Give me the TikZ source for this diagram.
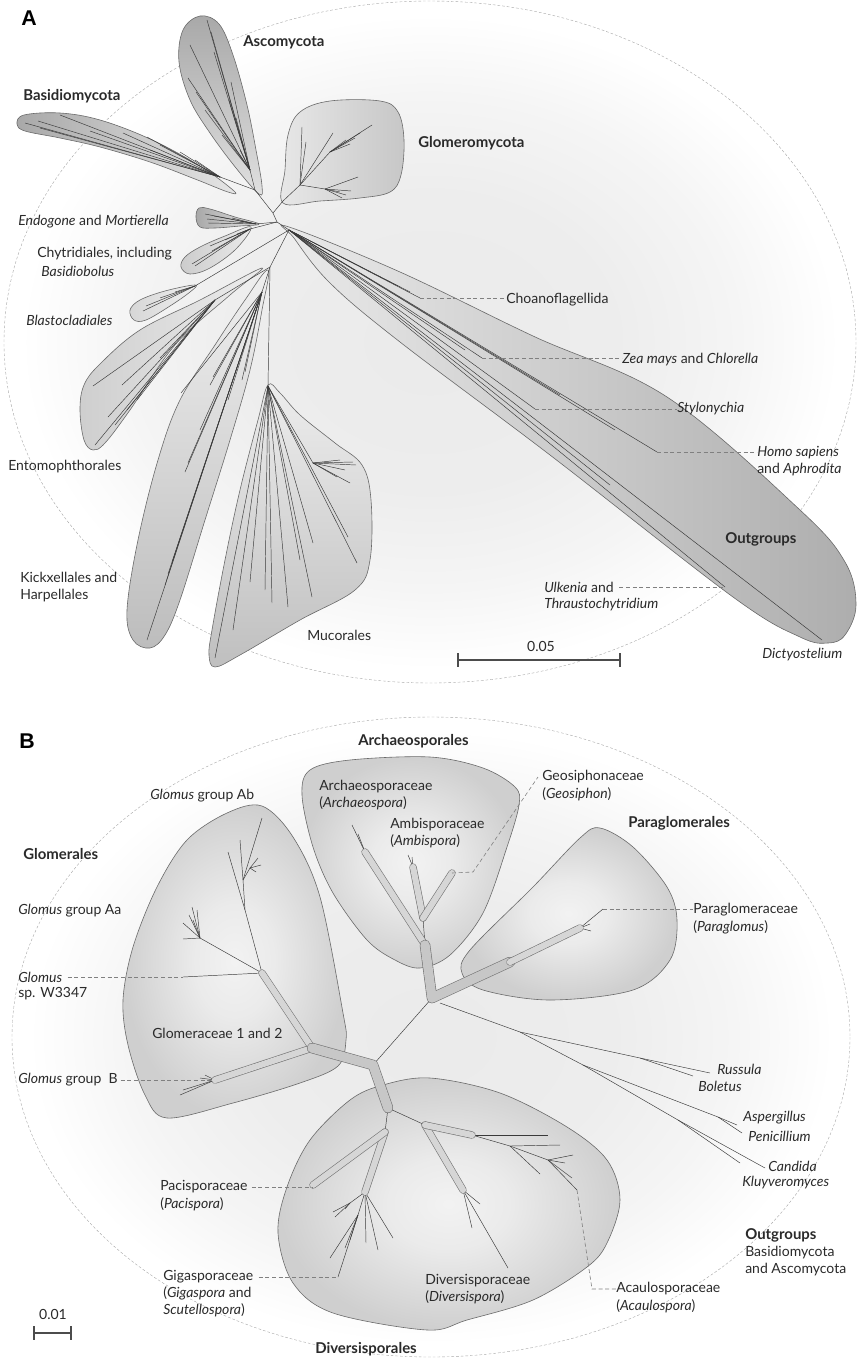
\documentclass[tikz,border=0pt]{standalone}
\usepackage{fontspec}
\setmainfont{Lato}
\newfontfamily\panelfont{Liberation Sans}
\usepackage{tikz}
\usetikzlibrary{positioning}
\definecolor{Ink}{HTML}{2A2A2A}
\definecolor{Edge}{HTML}{6A6A6A}
\definecolor{Twig}{HTML}{3A3A3A}
\pgfdeclareradialshading{halo}{\pgfpoint{0bp}{0bp}}{color(0bp)=(black!8); color(11bp)=(black!7); color(18bp)=(black!4); color(24bp)=(white); color(50bp)=(white)}
\pgfdeclareradialshading{pouch}{\pgfpoint{0bp}{0bp}}{color(0bp)=(black!5); color(9bp)=(black!8); color(25bp)=(black!19); color(50bp)=(black!19)}
\tikzset{
  twig/.style={draw=Twig,line width=0.35pt},
  clade/.style={draw=Edge,line width=0.45pt},
  halo/.style={draw=black!35,line width=0.3pt,dash pattern=on 2pt off 1.5pt},
  leader/.style={draw=black!50,line width=0.45pt,dash pattern=on 3pt off 2pt},
  pipe/.style={draw=black!55,line width=0.45pt,double=black!16,double distance=4.6pt,line cap=round,line join=round},
  fatpipe/.style={pipe,double=black!22,double distance=7pt},
  lbl/.style={inner sep=0pt,anchor=west,align=left,text=Ink,font=\fontsize{10.5}{12.8}\selectfont},
  grp/.style={lbl,font=\fontsize{11.2}{12.8}\selectfont\bfseries},
  panel/.style={inner sep=0pt,anchor=west,font=\panelfont\bfseries\fontsize{16}{16}\selectfont}
}
\begin{document}
\begin{tikzpicture}[x=0.75pt,y=-0.75pt]
  \useasboundingbox (0,0) rectangle (857,1359);
  % halos
  \shade[shading=halo] (430,342) ellipse [x radius=426,y radius=341];
  \draw[halo] (430,342) ellipse [x radius=426,y radius=341];
  \shade[shading=halo] (431,1037) ellipse [x radius=419,y radius=320];
  \draw[halo] (431,1037) ellipse [x radius=419,y radius=320];

  % ---------------- panel A: clades
  \draw[clade,top color=black!34,bottom color=black!12] plot[smooth cycle,tension=.6] coordinates {(259,194) (236,168) (210,133) (190,100) (179,62) (183,30) (200,16) (219,24) (233,55) (247,105) (256,150) (262,186)};
  \draw[clade,left color=black!34,right color=black!10] plot[smooth cycle,tension=.6] coordinates {(234,191) (200,166) (150,139) (100,120) (60,113) (24,115) (17,124) (25,131) (60,138) (100,147) (150,162) (195,179) (228,192)};
  \draw[clade,left color=black!9,right color=black!22] plot[smooth cycle,tension=.6] coordinates {(283,203) (285,170) (288,135) (300,112) (330,101) (380,101) (398,112) (404,140) (401,175) (390,192) (360,198) (320,201)};
  \draw[clade,left color=black!34,right color=black!11] plot[smooth cycle,tension=.6] coordinates {(259,224) (235,217) (210,209) (199,208) (196,217) (200,227) (215,228) (240,226)};
  \draw[clade,left color=black!20,right color=black!8] plot[smooth cycle,tension=.6] coordinates {(251,227) (225,236) (200,247) (185,257) (181,267) (190,274) (210,268) (236,249)};
  \draw[clade,left color=black!16,right color=black!6] plot[smooth cycle,tension=.6] coordinates {(195,285) (165,291) (140,300) (130,310) (134,320) (146,320) (170,306) (190,292)};
  \draw[clade,left color=black!19,right color=black!7] plot[smooth cycle,tension=.6] coordinates {(262,268) (200,300) (140,330) (100,364) (84,385) (80,410) (84,440) (93,450) (105,443) (130,410) (175,345) (230,295)};
  \draw[clade,top color=black!6,bottom color=black!26] plot[smooth cycle,tension=.6] coordinates {(268,270) (245,300) (215,345) (180,400) (158,460) (138,540) (127,610) (133,640) (150,648) (165,635) (180,600) (205,520) (230,440) (250,370) (262,310)};
  \draw[clade,top color=black!7,bottom color=black!25] plot[smooth cycle,tension=.6] coordinates {(268,385) (258,420) (240,490) (225,560) (212,630) (209,655) (215,667) (240,655) (300,620) (355,590) (370,560) (371,500) (362,465) (335,443) (300,415) (280,393)};
  \draw[clade,left color=black!8,right color=black!32] plot[smooth cycle,tension=.6] coordinates {(289,227) (400,272) (533,336) (667,397) (800,510) (845,562) (856,605) (845,635) (828,643) (800,637) (733,597) (550,455) (400,342) (330,283) (294,238)};

  % panel A: backbone
  \coordinate (rootA) at (289,230);
  \coordinate (fA1) at (277,222);
  \coordinate (fA2) at (273,213);
  \coordinate (dik) at (255,190);
  \coordinate (glo) at (283,201);
  \coordinate (zyg) at (270,267);
  \draw[twig] (dik) -- (fA2) -- (glo);
  \draw[twig] (fA2) -- (fA1) -- (rootA);
  \draw[twig] (rootA) -- (zyg);
  % Ascomycota
  \coordinate (asc) at (250,170);
  \draw[twig] (dik) -- (asc);
  \foreach \tp in {(207,20),(211,32),(214,52),(190,45),(188,78),(196,92),(205,110),(231,82),(229,100),(236,118),(222,135),(240,150)}
    \draw[twig] (asc) -- \tp;
  % Basidiomycota
  \coordinate (bas) at (220,177);
  \draw[twig] (dik) -- (bas);
  \foreach \tp in {(25,123),(38,121),(60,115),(40,128),(90,131),(123,133),(147,137),(160,145),(150,150),(180,152),(195,160)}
    \draw[twig] (bas) -- \tp;
  % Glomeromycota
  \coordinate (gl1) at (300,185);
  \coordinate (gl2) at (330,152);
  \coordinate (gl3) at (325,189);
  \draw[twig] (glo) -- (gl1) -- (gl2);
  \draw[twig] (gl1) -- (gl3);
  \foreach \tp in {(372,125),(360,133),(355,138),(350,144),(346,140)}
    \draw[twig] (gl2) -- \tp;
  \foreach \tp in {(302,127),(306,142),(333,133)}
    \draw[twig] (gl1) -- \tp;
  \foreach \tp in {(358,177),(342,198),(346,195),(351,191),(340,192)}
    \draw[twig] (gl3) -- \tp;
  % Endogone, Chytridiales, Blastocladiales
  \coordinate (endo) at (256,224);
  \draw[twig] (fA1) -- (endo);
  \foreach \tp in {(205,214),(207,219),(208,223),(214,216),(232,218),(240,221)}
    \draw[twig] (endo) -- \tp;
  \coordinate (chy) at (250,229);
  \draw[twig] (fA1) -- (chy);
  \foreach \tp in {(192,264),(195,266),(210,246),(212,251),(225,240),(237,234)}
    \draw[twig] (chy) -- \tp;
  \coordinate (bla) at (195,286);
  \draw[twig] (rootA) -- (bla);
  \foreach \tp in {(143,311),(146,306),(160,298),(175,292)}
    \draw[twig] (bla) -- \tp;
  % Entomophthorales, Kickxellales, Mucorales
  \coordinate (ent) at (215,300);
  \draw[twig] (zyg) -- (ent);
  \foreach \tp in {(93,386),(108,417),(127,410),(95,445),(137,400),(122,385),(160,358),(115,425)}
    \draw[twig] (ent) -- \tp;
  \coordinate (kic) at (262,292);
  \draw[twig] (zyg) -- (kic);
  \foreach \tp in {(147,640),(165,585),(168,574),(172,562),(185,472),(188,463),(210,385),(213,377),(181,393),(242,380),(245,372),(228,400),(200,430)}
    \draw[twig] (kic) -- \tp;
  \coordinate (muc) at (268,386);
  \coordinate (mcl) at (313,463);
  \draw[twig] (zyg) -- (muc) -- (mcl);
  \foreach \tp in {(215,658),(233,630),(250,582),(265,590),(272,603),(288,607),(312,597),(313,543),(348,537),(357,563),(300,560)}
    \draw[twig] (muc) -- \tp;
  \foreach \tp in {(353,462),(350,483),(337,477),(345,470),(356,465),(340,460)}
    \draw[twig] (mcl) -- \tp;
  % outgroups
  \coordinate (choTip) at (420,298);
  \coordinate (zeaTip) at (482,358);
  \coordinate (styTip) at (535,409);
  \coordinate (homTip) at (657,452);
  \coordinate (ulkTip) at (725,587);
  \coordinate (dicTip) at (822,640);
  \foreach \tp in {(choTip),(410,292),(398,286),(465,350),(zeaTip),(styTip),(560,395),(615,430),(610,485),(homTip),(ulkTip),(dicTip)}
    \draw[twig] (rootA) -- \tp;

  % panel A: labels
  \node[panel] (pA) at (21,18) {A};
  \node[grp] (lAsc) at (243,42) {Ascomycota};
  \node[grp] (lBas) at (23,96) {Basidiomycota};
  \node[grp] (lGlm) at (418,143) {Glomeromycota};
  \node[lbl] (lEnd) at (18,222) {\textit{Endogone} and \textit{Mortierella}};
  \node[lbl] (lChy) at (37,254) {Chytridiales, including};
  \node[lbl] (lBsb) at (41,271) {\textit{Basidiobolus}};
  \node[lbl] (lBla) at (26,320) {\textit{Blastocladiales}};
  \node[lbl] (lEnt) at (8,467) {Entomophthorales};
  \node[lbl] (lKic) at (20,587) {Kickxellales and\\Harpellales};
  \node[lbl] (lMuc) at (307,635) {Mucorales};
  \node[lbl] (lCho) at (506,300) {Choanoflagellida};
  \node[lbl] (lZea) at (622,360) {\textit{Zea mays} and \textit{Chlorella}};
  \node[lbl] (lSty) at (677,409) {\textit{Stylonychia}};
  \node[lbl] (lHom) at (757,461) {\textit{Homo sapiens}\\and \textit{Aphrodita}};
  \node[grp] (lOut) at (725,539) {Outgroups};
  \node[lbl] (lUlk) at (544,587) {\textit{Ulkenia} and};
  \node[lbl] (lThr) at (544,605) {\textit{Thraustochytridium}};
  \node[lbl] (lDic) at (762,655) {\textit{Dictyostelium}};
  \draw[leader] (choTip) -- (choTip -| lCho.west);
  \draw[leader] (zeaTip) -- (zeaTip -| lZea.west);
  \draw[leader] (styTip) -- (styTip -| lSty.west);
  \draw[leader] (homTip) -- (homTip -| lHom.west);
  \draw[leader] ([xshift=4pt]lUlk.east) -- (ulkTip);
  % scale bar A
  \node[lbl,anchor=center] (sA) at (541,646) {0.05};
  \draw[black!70,line width=1.3pt] (458,660) -- (620,660);
  \draw[black!70,line width=1.3pt] (458,653) -- (458,667) (620,653) -- (620,667);

  % ---------------- panel B: clades
  \draw[clade,shade,shading=pouch] plot[smooth cycle,tension=.55] coordinates {(262,806) (293,837) (320,897) (343,1013) (346,1040) (338,1066) (300,1083) (233,1103) (167,1118) (145,1095) (128,1045) (123,1000) (133,947) (157,887) (187,840) (227,813)};
  \draw[clade,shade,shading=pouch] plot[smooth cycle,tension=.55] coordinates {(302,795) (310,770) (350,760) (430,757) (483,768) (515,787) (519,805) (507,847) (483,913) (450,955) (420,968) (395,960) (367,940) (333,893) (313,847)};
  \draw[clade,shade,shading=pouch] plot[smooth cycle,tension=.55] coordinates {(600,828) (633,847) (667,887) (677,920) (670,960) (633,990) (550,1000) (483,990) (462,973) (470,950) (533,887) (580,838)};
  \draw[clade,shade,shading=pouch] plot[smooth cycle,tension=.55] coordinates {(383,1085) (430,1078) (500,1093) (567,1127) (607,1160) (620,1200) (607,1243) (587,1267) (533,1300) (467,1320) (427,1330) (333,1313) (293,1283) (278,1233) (287,1187) (310,1140) (350,1100)};

  % panel B: backbone
  \coordinate (gC) at (312,1048);
  \coordinate (gA) at (262,973);
  \coordinate (gB) at (215,1080);
  \coordinate (bR) at (373,1065);
  \coordinate (dR) at (388,1108);
  \coordinate (apJ) at (432,998);
  \coordinate (arS) at (425,945);
  \coordinate (arV) at (423,918);
  \coordinate (paA) at (510,962);
  \coordinate (paB) at (580,928);
  \coordinate (dv1) at (385,1132);
  \coordinate (dv2) at (425,1125);
  \draw[twig] (bR) -- (apJ);
  % outgroups B
  \coordinate (ogR) at (440,1003);
  \coordinate (ogA) at (520,1032);
  \coordinate (ogB) at (640,1058);
  \coordinate (ogC) at (583,1065);
  \coordinate (ogD) at (678,1120);
  \coordinate (ogE) at (718,1117);
  \draw[twig] (ogR) -- (ogA) -- (ogB) -- (710,1073);
  \draw[twig] (ogB) -- (693,1076);
  \draw[twig] (ogA) -- (ogC) -- (ogE) -- (737,1125);
  \draw[twig] (ogE) -- (742,1133);
  \draw[twig] (ogC) -- (ogD) -- (765,1168);
  \draw[twig] (ogD) -- (740,1163);
  % Glomerales twigs
  \coordinate (wTip) at (183,977);
  \coordinate (aa) at (200,938);
  \coordinate (ab1) at (245,910);
  \coordinate (ab2) at (243,880);
  \coordinate (ab3) at (250,868);
  \draw[twig] (gA) -- (wTip);
  \draw[twig] (gA) -- (aa);
  \foreach \tp in {(183,939),(183,923),(192,907),(197,910),(193,920),(189,915)}
    \draw[twig] (aa) -- \tp;
  \draw[twig] (gA) -- (ab1) -- (ab2) -- (240,840);
  \draw[twig] (ab1) -- (228,852);
  \draw[twig] (ab2) -- (262,818);
  \draw[twig] (ab2) -- (ab3);
  \foreach \tp in {(261,865),(258,858),(256,872)}
    \draw[twig] (ab3) -- \tp;
  \foreach \tp in {(180,1095),(183,1090),(200,1078),(205,1075)}
    \draw[twig] (gB) -- \tp;
  % Archaeosporales and Paraglomerales twigs
  \draw[twig] (arS) -- (arV);
  \draw[twig] (365,852) -- (352,825);
  \draw[twig] (365,852) -- (358,834);
  \draw[twig] (413,867) -- (408,855);
  \draw[twig] (413,867) -- (412,857);
  \draw[twig] (paB) -- (590,924);
  \draw[twig] (paB) -- (591,931);
  \coordinate (paK) at (603,909);
  \draw[twig] (paB) -- (paK);
  % Diversisporales twigs
  \draw[twig] (dR) -- (dv1);
  \draw[twig] (dR) -- (dv2);
  \coordinate (gg) at (365,1192);
  \coordinate (gg1) at (358,1215);
  \coordinate (gg2) at (350,1203);
  \coordinate (gigTip) at (338,1277);
  \draw[twig] (gg) -- (gg1) -- (gigTip);
  \draw[twig] (gg) -- (gg2);
  \foreach \tp in {(330,1258),(345,1248),(350,1240)}
    \draw[twig] (gg1) -- \tp;
  \foreach \tp in {(335,1217),(333,1212),(345,1209)}
    \draw[twig] (gg2) -- \tp;
  \foreach \tp in {(393,1238),(378,1250),(366,1243)}
    \draw[twig] (gg) -- \tp;
  \coordinate (dvs) at (463,1190);
  \foreach \tp in {(480,1204),(472,1228),(508,1268)}
    \draw[twig] (dvs) -- \tp;
  \coordinate (acs) at (472,1135);
  \coordinate (ac1) at (510,1146);
  \coordinate (ac2) at (548,1160);
  \coordinate (acTip) at (577,1190);
  \draw[twig] (acs) -- (548,1135);
  \draw[twig] (acs) -- (ac1) -- (ac2) -- (acTip);
  \draw[twig] (ac1) -- (560,1145);
  \draw[twig] (ac1) -- (540,1174);
  \foreach \tp in {(573,1155),(572,1178),(565,1163)}
    \draw[twig] (ac2) -- \tp;

  % panel B: pipes
  \draw[pipe] (gB) -- (gC);
  \draw[pipe] (gC) -- (gA);
  \draw[fatpipe] (gC) -- (bR) -- (dR);
  \draw[pipe] (arS) -- (365,852);
  \draw[pipe] (arV) -- (413,867);
  \draw[pipe] (arV) -- (452,873);
  \draw[fatpipe] (arS) -- (apJ) -- (paA);
  \draw[pipe] (paA) -- (paB);
  \draw[pipe] (dv1) -- (gg);
  \draw[pipe] (dv1) -- (313,1185);
  \draw[pipe] (dv2) -- (dvs);
  \draw[pipe] (dv2) -- (acs);

  % panel B: labels
  \node[panel] (pB) at (19,741) {B};
  \node[grp] (lArc) at (358,741) {Archaeosporales};
  \node[grp] (lGlr) at (23,854) {Glomerales};
  \node[grp] (lPgl) at (628,823) {Paraglomerales};
  \node[grp] (lDiv) at (315,1349) {Diversisporales};
  \node[lbl] (lAb) at (150,796) {\textit{Glomus} group Ab};
  \node[lbl] (lAa) at (18,911) {\textit{Glomus} group Aa};
  \node[lbl] (lW1) at (18,977) {\textit{Glomus}};
  \node[lbl] (lW2) at (18,994) {sp. W3347};
  \node[lbl] (lGlc) at (152,1033) {Glomeraceae 1 and 2};
  \node[lbl] (lGB) at (18,1080) {\textit{Glomus} group~ B};
  \node[lbl] (lArp) at (319,795) {Archaeosporaceae\\(\textit{Archaeospora})};
  \node[lbl] (lAmb) at (390,833) {Ambisporaceae\\(\textit{Ambispora})};
  \node[lbl] (lGeo) at (542,777) {Geosiphonaceae};
  \node[lbl] (lGe2) at (542,794) {(\textit{Geosiphon})};
  \node[lbl] (lPar) at (693,910) {Paraglomeraceae};
  \node[lbl] (lPa2) at (693,927) {(\textit{Paraglomus})};
  \node[lbl] (lRus) at (717,1069) {\textit{Russula}};
  \node[lbl] (lBol) at (698,1086) {\textit{Boletus}};
  \node[lbl] (lAsp) at (743,1118) {\textit{Aspergillus}};
  \node[lbl] (lPen) at (748,1136) {\textit{Penicillium}};
  \node[lbl] (lCan) at (768,1166) {\textit{Candida}};
  \node[lbl] (lKlu) at (742,1183) {\textit{Kluyveromyces}};
  \node[lbl] (lOg) at (745,1252) {\textbf{\fontsize{11.2}{12.8}\selectfont Outgroups}\\Basidiomycota\\and Ascomycota};
  \node[lbl] (lPac) at (160,1187) {Pacisporaceae};
  \node[lbl] (lPa3) at (160,1204) {(\textit{Pacispora})};
  \node[lbl] (lGig) at (163,1277) {Gigasporaceae};
  \node[lbl] (lGi2) at (163,1302) {(\textit{Gigaspora} and\\\textit{Scutellospora})};
  \node[lbl] (lDvs) at (425,1289) {Diversisporaceae\\(\textit{Diversispora})};
  \node[lbl] (lAca) at (616,1289) {Acaulosporaceae};
  \node[lbl] (lAc2) at (616,1306) {(\textit{Acaulospora})};
  % leaders B
  \draw[leader] ([xshift=4pt]lW1.east) -- (wTip);
  \draw[leader] ([xshift=2pt]lGB.east) -- (212,1080);
  \draw[leader] (452,873) -- (473,872) -- ([xshift=-3pt]lGeo.west);
  \draw[leader] (paK) -- (paK -| lPar.west);
  \draw[leader] ([xshift=3pt]lPac.east) -- (313,1187);
  \draw[leader] ([xshift=4pt]lGig.east) -- (gigTip);
  \draw[leader] (acTip) -- (592,1289) -- (lAca.west);
  % scale bar B
  \node[lbl,anchor=center] (sB) at (53,1314) {0.01};
  \draw[black!70,line width=1.3pt] (34,1333) -- (71,1333);
  \draw[black!70,line width=1.3pt] (34,1326) -- (34,1340) (71,1326) -- (71,1340);
\end{tikzpicture}
\end{document}
